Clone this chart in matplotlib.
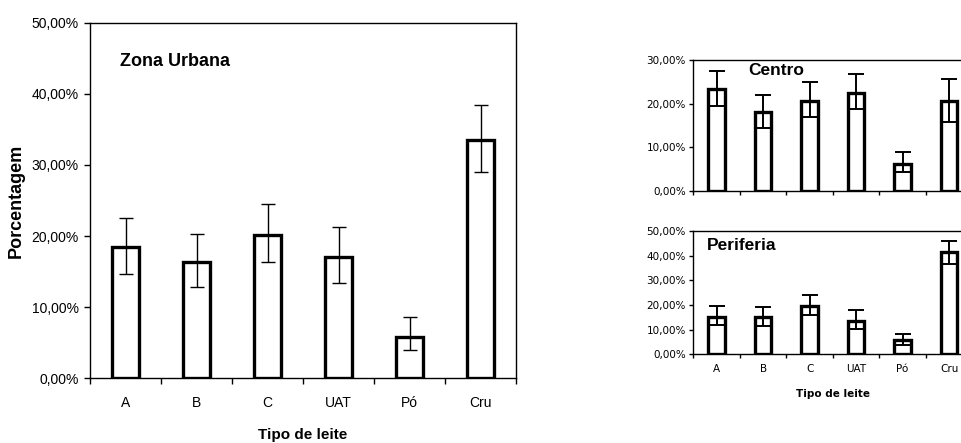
import numpy as np
import matplotlib
matplotlib.use('Agg')
import matplotlib.pyplot as plt
from matplotlib.ticker import FuncFormatter

tipos = ['A', 'B', 'C', 'UAT', 'Pó', 'Cru']

# Zona Urbana (%)
urbana = [18.5, 16.3, 20.1, 17.0, 5.8, 33.5]
urbana_lo = [3.8, 3.5, 3.8, 3.6, 1.8, 4.5]
urbana_hi = [4.1, 4.0, 4.4, 4.2, 2.8, 5.0]

# Centro (%)
centro = [23.3, 18.2, 20.7, 22.5, 6.1, 20.7]
centro_lo = [3.8, 3.7, 3.8, 3.7, 1.8, 4.9]
centro_hi = [4.2, 3.8, 4.3, 4.2, 2.8, 4.9]

# Periferia (%)
periferia = [15.2, 15.2, 19.7, 13.6, 5.7, 41.6]
periferia_lo = [3.3, 3.7, 3.8, 3.3, 2.1, 5.1]
periferia_hi = [4.5, 3.8, 4.5, 4.4, 2.5, 4.5]

pct = FuncFormatter(lambda v, p: '{:.2f}%'.format(v).replace('.', ','))


def draw_bars(ax, vals, lo, hi, ymax, barw, blw, elw, cap, tlen):
    x = np.arange(len(vals))
    ax.bar(x, vals, width=barw, color='white', edgecolor='black', linewidth=blw, zorder=2)
    ax.errorbar(x, vals, yerr=[lo, hi], fmt='none', ecolor='black', elinewidth=elw,
                capsize=cap, capthick=elw, zorder=3)
    ax.set_xlim(-0.5, len(vals) - 0.5)
    ax.set_ylim(0, ymax)
    ax.set_yticks(np.arange(0, ymax + 0.1, 10))
    ax.yaxis.set_major_formatter(pct)
    ax.set_xticks(x)
    ax.set_xticks(np.arange(-0.5, len(vals)), minor=True)
    ax.tick_params(axis='x', which='major', length=0)
    ax.tick_params(axis='x', which='minor', length=tlen, width=1, direction='out')
    ax.tick_params(axis='y', length=tlen, width=1, direction='out')
    for s in ax.spines.values():
        s.set_linewidth(1)
    return x


fig = plt.figure(figsize=(9.61, 4.43), dpi=100)

# main chart
ax = fig.add_axes([0.0937, 0.1467, 0.4433, 0.8014])
draw_bars(ax, urbana, urbana_lo, urbana_hi, 50, 0.39, 2.4, 1.0, 5, 4)
ax.set_xticklabels(tipos, fontsize=10, family='Liberation Sans')
for t in ax.get_yticklabels():
    t.set_fontsize(10)
    t.set_family('Liberation Sans')
ax.tick_params(axis='x', which='major', pad=13)
ax.tick_params(axis='y', pad=4)
ax.text(-0.08, 44.6, 'Zona Urbana', fontsize=13, fontweight='bold',
        family='Liberation Sans', va='center', ha='left')
ax.set_ylabel('Porcentagem', fontsize=13, fontweight='bold', family='Liberation Sans',
              labelpad=5)
fig.text(303 / 961, 1 - 435 / 443, 'Tipo de leite', fontsize=11, fontweight='bold',
         family='Liberation Sans', ha='center', va='center')

# Centro
ax2 = fig.add_axes([0.7215, 0.5688, 0.2903, 0.2957])
draw_bars(ax2, centro, centro_lo, centro_hi, 30, 0.36, 2.4, 1.4, 6, 3)
ax2.set_xticklabels([])
for t in ax2.get_yticklabels():
    t.set_fontsize(7.5)
ax2.tick_params(axis='y', pad=2.5)
ax2.text(0.68, 27.5, 'Centro', fontsize=12.5, fontweight='bold',
         family='Liberation Sans', va='center', ha='left')

# Periferia
ax3 = fig.add_axes([0.7215, 0.2002, 0.2903, 0.2783])
draw_bars(ax3, periferia, periferia_lo, periferia_hi, 50, 0.36, 2.4, 1.4, 6, 3)
ax3.set_xticklabels(tipos, fontsize=7.5)
for t in ax3.get_yticklabels():
    t.set_fontsize(7.5)
ax3.tick_params(axis='y', pad=2.5)
ax3.tick_params(axis='x', which='major', pad=7)
ax3.text(-0.2, 44.2, 'Periferia', fontsize=12.5, fontweight='bold',
         family='Liberation Sans', va='center', ha='left')
fig.text(833 / 961, 1 - 394 / 443, 'Tipo de leite', fontsize=7.5, fontweight='bold',
         ha='center', va='center')

fig.savefig('out.png', dpi=100)
